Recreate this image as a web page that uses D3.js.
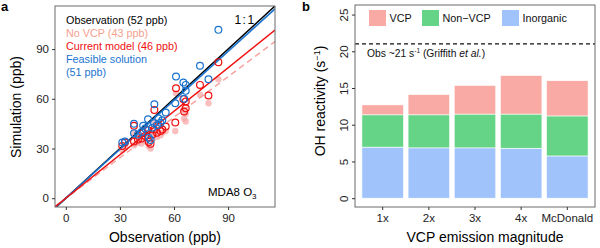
<!DOCTYPE html>
<html>
<head>
<meta charset="utf-8">
<script src="https://cdn.jsdelivr.net/npm/d3@7"></script>
<style>
  body { margin: 0; background: #fff; }
  svg text { font-family: "Liberation Sans", Arial, sans-serif; }
</style>
</head>
<body>
<div id="chart"></div>
<script>
// ---- panel a data (ppb), one entry per site ----
const obsO3      = [84.6, 74.4, 79.1, 61.1, 65.2, 66.5, 66.5, 65.6, 60.7, 49.1, 55.4, 45.6, 51.3, 48.9,
                    37.8, 42.9, 32.8, 31.3, 37.8, 47.0, 46.0, 44.0, 50.5, 52.5, 42.0, 40.0, 48.0, 53.5];
const feasibleO3 = [101.6, 79.9, 71.8, 73.4, 69.8, 68.4, 64.8, 60.0, 57.3, 56.7, 51.7, 47.7, 48.3, 45.3,
                    44.9, 43.7, 34.2, 33.6, 39.2, 35.2, 36.5, 42.0, 44.0, 45.5, 40.0, 38.5, 42.5, 47.0];
const currentO3  = [82.1, 68.4, 62.0, 66.4, 59.8, 58.4, 54.3, 52.3, 45.7, 53.3, 43.3, 41.0, 44.0, 41.5,
                    43.7, 39.5, 33.6, 31.5, 34.2, 32.8, 34.0, 37.5, 39.5, 40.5, 36.0, 35.5, 38.5, 41.5];
const noVcpO3    = [71.8, 62.4, 57.3, 63.4, 53.3, 51.0, 46.3, 48.0, 40.6, 46.3, 40.6, 37.5, 40.0, 38.0,
                    39.0, 36.0, 30.5, 29.0, 32.0, 30.0, 31.5, 34.5, 37.0, 38.0, 33.0, 33.5, 35.5, 39.5];
// fitted slopes (through origin)
const fitNames  = ["noVcp", "feasible", "current"];
const fitSlopes = [0.815, 0.985, 0.875];
const legendA = ["Observation (52 ppb)", "No VCP (43 ppb)", "Current model (46 ppb)", "Feasible solution", "(51 ppb)"];
const ticksA = [0, 30, 60, 90];

// ---- panel b data (s^-1) ----
const scenarios = ["1x", "2x", "3x", "4x", "McDonald"];
const inorganic = [6.95, 6.85, 6.85, 6.8, 5.75];
const nonVcp    = [4.4, 4.5, 4.6, 4.65, 5.45];
const vcp       = [1.35, 2.75, 3.9, 5.25, 4.8];
const obsReactivity = 21;
const ticksB = [0, 5, 10, 15, 20, 25];

const W = 600, H = 248;
const svg = d3.select("#chart").append("svg").attr("width", W).attr("height", H);

const colObs = "#000", colNoVcp = "#F5A08E", colCur = "#F01010", colFeas = "#1A73CF";
const boxCol = "#6a6a6a";

// ================= panel a =================
const pa = {left: 55, right: 275, top: 6, bottom: 207};
const xA = d3.scaleLinear().domain([-6, 116]).range([pa.left, pa.right]);
const yA = d3.scaleLinear().domain([-5.3, 116]).range([pa.bottom, pa.top]);

const gA = svg.append("g");
gA.append("defs").append("clipPath").attr("id", "clipA")
  .append("rect").attr("x", pa.left).attr("y", pa.top)
  .attr("width", pa.right - pa.left).attr("height", pa.bottom - pa.top);

const plotA = gA.append("g").attr("clip-path", "url(#clipA)");

const sites = obsO3.map((o, i) => ({obs: o, feas: feasibleO3[i], cur: currentO3[i], nov: noVcpO3[i]}));

// no-VCP filled points
plotA.selectAll(".nov").data(sites).enter().append("circle")
  .attr("cx", d => xA(d.obs)).attr("cy", d => yA(d.nov)).attr("r", 3.2)
  .attr("fill", "#F7AAAA").attr("opacity", 0.75);

const xEnds = xA.domain();
function fitLine(slope) {
  return xEnds.map(x => [xA(x), yA(slope * x)]);
}
const line = d3.line();
// dashed no-VCP fit
plotA.append("path").attr("d", line(fitLine(fitSlopes[0])))
  .attr("fill", "none").attr("stroke", "#F7A3A0").attr("stroke-width", 1.5).attr("stroke-dasharray", "6,4");
// 1:1
plotA.append("path").attr("d", line(fitLine(1)))
  .attr("fill", "none").attr("stroke", colObs).attr("stroke-width", 1.5);
// feasible
plotA.append("path").attr("d", line(fitLine(fitSlopes[1])))
  .attr("fill", "none").attr("stroke", colFeas).attr("stroke-width", 1.5);
// current
plotA.append("path").attr("d", line(fitLine(fitSlopes[2])))
  .attr("fill", "none").attr("stroke", colCur).attr("stroke-width", 1.5);

plotA.selectAll(".cur").data(sites).enter().append("circle")
  .attr("cx", d => xA(d.obs)).attr("cy", d => yA(d.cur)).attr("r", 3.4)
  .attr("fill", "none").attr("stroke", colCur).attr("stroke-width", 1.2);
plotA.selectAll(".feas").data(sites).enter().append("circle")
  .attr("cx", d => xA(d.obs)).attr("cy", d => yA(d.feas)).attr("r", 3.4)
  .attr("fill", "none").attr("stroke", colFeas).attr("stroke-width", 1.2);

// box
gA.append("rect").attr("x", pa.left).attr("y", pa.top)
  .attr("width", pa.right - pa.left).attr("height", pa.bottom - pa.top)
  .attr("fill", "none").attr("stroke", boxCol).attr("stroke-width", 1);

// axes
const axA = gA.append("g").attr("transform", `translate(0,${pa.bottom})`)
  .call(d3.axisBottom(xA).tickValues(ticksA).tickSize(3).tickPadding(4));
const ayA = gA.append("g").attr("transform", `translate(${pa.left},0)`)
  .call(d3.axisLeft(yA).tickValues(ticksA).tickSize(3).tickPadding(3));
[axA, ayA].forEach(a => {
  a.select(".domain").remove();
  a.selectAll(".tick line").attr("stroke", "#333");
  a.selectAll(".tick text").attr("font-size", "11.5px").attr("fill", "#222")
    .style("font-family", "'Liberation Sans', Arial, sans-serif");
});

const legColors = [colObs, colNoVcp, colCur, colFeas, colFeas];
const legY = [24, 37, 50, 63, 76];
gA.selectAll(".legA").data(legendA).enter().append("text")
  .attr("x", 66).attr("y", (d, i) => legY[i])
  .attr("font-size", "10.8px").attr("fill", (d, i) => legColors[i]).text(d => d);

gA.append("text").attr("x", 245).attr("y", 24).attr("text-anchor", "middle")
  .attr("font-size", "12px").attr("letter-spacing", "1.5px").text("1:1");

const mda = gA.append("text").attr("x", 208).attr("y", 196).attr("font-size", "11.5px");
mda.append("tspan").text("MDA8 O");
mda.append("tspan").attr("dy", 3).attr("font-size", "8px").text("3");

gA.append("text").attr("x", 165).attr("y", 242).attr("text-anchor", "middle")
  .attr("font-size", "14px").text("Observation (ppb)");
gA.append("text").attr("transform", "translate(21,107) rotate(-90)").attr("text-anchor", "middle")
  .attr("font-size", "14px").text("Simulation (ppb)");
gA.append("text").attr("x", 1).attr("y", 11).attr("font-size", "13px").attr("font-weight", "bold").text("a");

// ================= panel b =================
const pb = {left: 355, right: 595, top: 5, bottom: 207};
const xB = d3.scaleBand().domain(scenarios).range([pb.left, pb.right]).paddingInner(0.1).paddingOuter(0.15);
const yB = d3.scaleLinear().domain([-1.2, 26.3]).range([pb.bottom, pb.top]);

const gB = svg.append("g");
const stackRows = scenarios.map((s, i) => ({scenario: s, Inorganic: inorganic[i], "Non-VCP": nonVcp[i], VCP: vcp[i]}));
const keys = ["Inorganic", "Non-VCP", "VCP"];
const fills = {"Inorganic": "#A1C3FC", "Non-VCP": "#66D487", "VCP": "#FAAAA4"};
const stacked = d3.stack().keys(keys)(stackRows);

gB.selectAll(".layer").data(stacked).enter().append("g")
  .attr("fill", d => fills[d.key])
  .selectAll("rect").data(d => d).enter().append("rect")
  .attr("x", d => xB(d.data.scenario)).attr("width", xB.bandwidth())
  .attr("y", d => yB(d[1])).attr("height", d => yB(d[0]) - yB(d[1]))
  .attr("stroke", "#fff").attr("stroke-width", 0.6);

// obs line
gB.append("line").attr("x1", pb.left).attr("x2", pb.right)
  .attr("y1", yB(obsReactivity)).attr("y2", yB(obsReactivity))
  .attr("stroke", "#111").attr("stroke-width", 1.3).attr("stroke-dasharray", "4,3");

const obsTxt = gB.append("text").attr("x", 367).attr("y", 57).attr("font-size", "10.3px").attr("fill", "#111");
obsTxt.append("tspan").text("Obs ~" + obsReactivity + " s");
obsTxt.append("tspan").attr("dy", -4).attr("font-size", "6.5px").text("-1");
obsTxt.append("tspan").attr("dy", 4).text(" (Griffith ");
obsTxt.append("tspan").attr("font-style", "italic").text("et al.");
obsTxt.append("tspan").text(")");

// box
gB.append("rect").attr("x", pb.left).attr("y", pb.top)
  .attr("width", pb.right - pb.left).attr("height", pb.bottom - pb.top)
  .attr("fill", "none").attr("stroke", boxCol).attr("stroke-width", 1);

const axB = gB.append("g").attr("transform", `translate(0,${pb.bottom})`)
  .call(d3.axisBottom(xB).tickSize(3).tickPadding(4));
const ayB = gB.append("g").attr("transform", `translate(${pb.left},0)`)
  .call(d3.axisLeft(yB).tickValues(ticksB).tickSize(3));
[axB, ayB].forEach(a => {
  a.select(".domain").remove();
  a.selectAll(".tick line").attr("stroke", "#333");
  a.selectAll(".tick text").attr("font-size", "11.5px").attr("fill", "#222")
    .style("font-family", "'Liberation Sans', Arial, sans-serif");
});
ayB.selectAll(".tick text").attr("x", null).attr("dy", null)
  .attr("text-anchor", "middle").attr("transform", "translate(-7,0) rotate(-90)");

// legend b
const legB = [{k: "VCP", x: 369}, {k: "Non-VCP", x: 422}, {k: "Inorganic", x: 502}];
legB.forEach(l => {
  gB.append("rect").attr("x", l.x).attr("y", 10).attr("width", 17).attr("height", 16).attr("fill", fills[l.k]);
  gB.append("text").attr("x", l.x + 20.5).attr("y", 22).attr("font-size", "10.8px").attr("fill", "#111")
    .text(l.k.replace("-", "\u2212"));
});

gB.append("text").attr("x", 485).attr("y", 242).attr("text-anchor", "middle")
  .attr("font-size", "14px").text("VCP emission magnitude");
const yt = gB.append("text").attr("transform", "translate(325,101) rotate(-90)").attr("text-anchor", "middle")
  .attr("font-size", "14px");
yt.append("tspan").text("OH reactivity (s");
yt.append("tspan").attr("dy", -5).attr("font-size", "9px").text("\u22121");
yt.append("tspan").attr("dy", 5).text(")");
gB.append("text").attr("x", 302).attr("y", 11).attr("font-size", "13px").attr("font-weight", "bold").text("b");
</script>
</body>
</html>
